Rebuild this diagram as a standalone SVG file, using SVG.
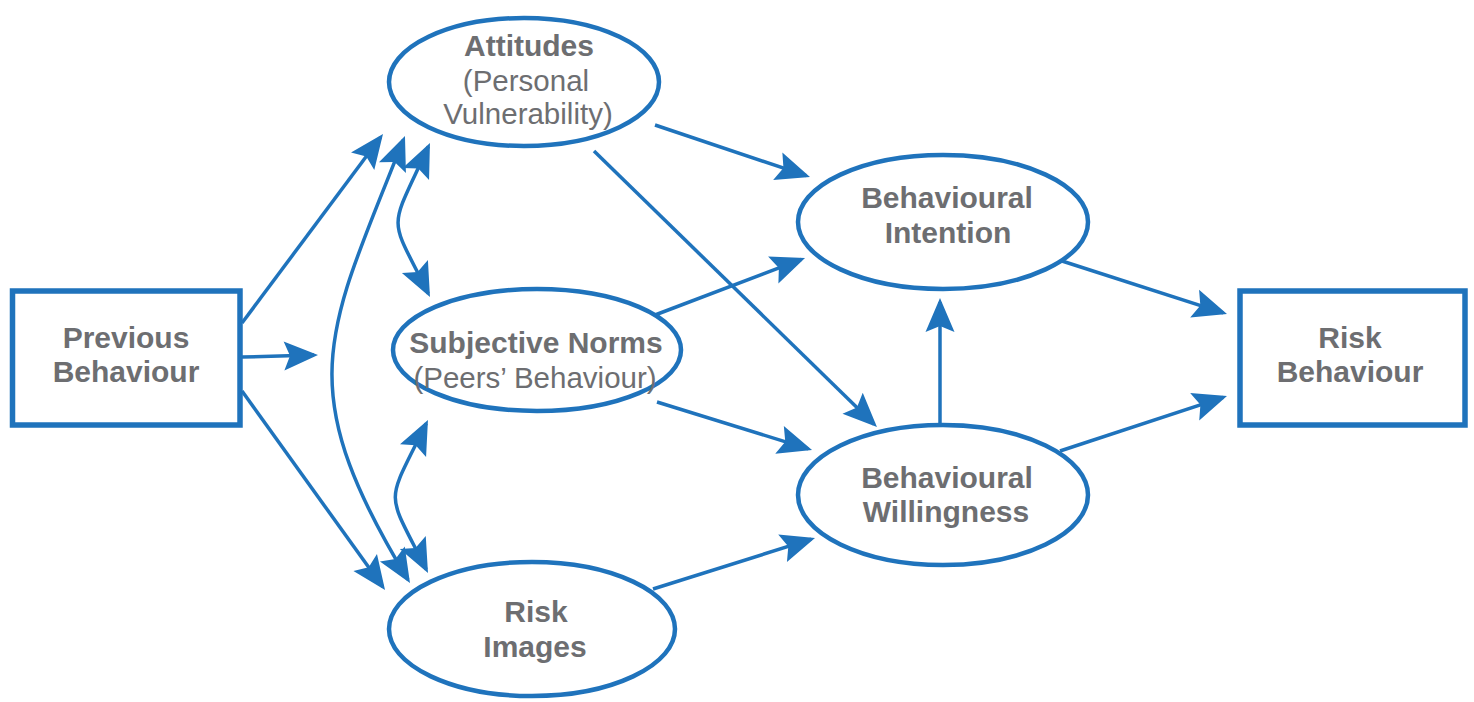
<svg xmlns="http://www.w3.org/2000/svg" width="1474" height="702" viewBox="0 0 1474 702">
  <style>
    .box { fill: #ffffff; stroke: #1f73bc; stroke-width: 5.5; }
    .ell { fill: #ffffff; stroke: #1f73bc; stroke-width: 4.5; }
    .con { fill: none; stroke: #1f73bc; stroke-width: 3.5; }
    .b { font-family: "Liberation Sans", Arial, sans-serif; font-weight: 700; font-size: 30px; fill: #6d6e71; text-anchor: middle; }
    .r { font-family: "Liberation Sans", Arial, sans-serif; font-weight: 400; font-size: 29.5px; fill: #6d6e71; text-anchor: middle; }
  </style>
  <defs>
    <marker id="ah" markerUnits="userSpaceOnUse" markerWidth="50" markerHeight="50" viewBox="-40 -25 50 50" refX="0" refY="0" orient="auto-start-reverse" overflow="visible">
      <path d="M4,0 L-30,-14.5 L-24,0 L-30,14.5 Z" fill="#1f73bc"/>
    </marker>
  </defs>

  <g id="connectors">
    <line class="con" x1="242" y1="323" x2="380.6" y2="137.2" marker-end="url(#ah)"/>
    <line class="con" x1="242" y1="357" x2="314" y2="355.1" marker-end="url(#ah)"/>
    <line class="con" x1="242" y1="391" x2="382.7" y2="586.8" marker-end="url(#ah)"/>
    <path class="con" d="M403.5,139.7 C326,335 290,385 407.9,579.6" marker-start="url(#ah)" marker-end="url(#ah)"/>
    <path class="con" d="M428.3,146.6 C388,235 388,212 428.2,293.4" marker-start="url(#ah)" marker-end="url(#ah)"/>
    <path class="con" d="M426.2,423.6 C385,508 385,487 426.2,569.4" marker-start="url(#ah)" marker-end="url(#ah)"/>
    <line class="con" x1="655" y1="125" x2="806.2" y2="175.7" marker-end="url(#ah)"/>
    <line class="con" x1="594" y1="151" x2="874.1" y2="424.2" marker-end="url(#ah)"/>
    <line class="con" x1="655" y1="315" x2="801.3" y2="259.4" marker-end="url(#ah)"/>
    <line class="con" x1="657" y1="402" x2="808.2" y2="448.8" marker-end="url(#ah)"/>
    <line class="con" x1="653" y1="589" x2="811.2" y2="539.2" marker-end="url(#ah)"/>
    <line class="con" x1="940" y1="425" x2="940" y2="302" marker-end="url(#ah)"/>
    <line class="con" x1="1062" y1="261" x2="1223.2" y2="312.8" marker-end="url(#ah)"/>
    <line class="con" x1="1060" y1="451" x2="1223.2" y2="397.3" marker-end="url(#ah)"/>
  </g>

  <g id="previous-behaviour">
    <rect class="box" x="12.5" y="291" width="227.5" height="134"/>
    <text class="b" x="126" y="348">Previous</text>
    <text class="b" x="126" y="382">Behaviour</text>
  </g>

  <g id="attitudes">
    <ellipse class="ell" cx="524" cy="82" rx="135" ry="64"/>
    <text class="b" x="529" y="56">Attitudes</text>
    <text class="r" x="526" y="91">(Personal</text>
    <text class="r" x="528" y="124">Vulnerability)</text>
  </g>

  <g id="subjective-norms">
    <ellipse class="ell" cx="537" cy="350" rx="144" ry="61"/>
    <text class="b" x="536" y="353">Subjective Norms</text>
    <text class="r" x="535" y="388">(Peers’ Behaviour)</text>
  </g>

  <g id="risk-images">
    <ellipse class="ell" cx="532" cy="629" rx="143" ry="67"/>
    <text class="b" x="536" y="622">Risk</text>
    <text class="b" x="535" y="657">Images</text>
  </g>

  <g id="behavioural-intention">
    <ellipse class="ell" cx="943" cy="222" rx="145" ry="67"/>
    <text class="b" x="947" y="208">Behavioural</text>
    <text class="b" x="948" y="243">Intention</text>
  </g>

  <g id="behavioural-willingness">
    <ellipse class="ell" cx="943" cy="495" rx="145" ry="70"/>
    <text class="b" x="947" y="488">Behavioural</text>
    <text class="b" x="946" y="522">Willingness</text>
  </g>

  <g id="risk-behaviour">
    <rect class="box" x="1240" y="291" width="225" height="134"/>
    <text class="b" x="1350" y="348">Risk</text>
    <text class="b" x="1350" y="382">Behaviour</text>
  </g>
</svg>
